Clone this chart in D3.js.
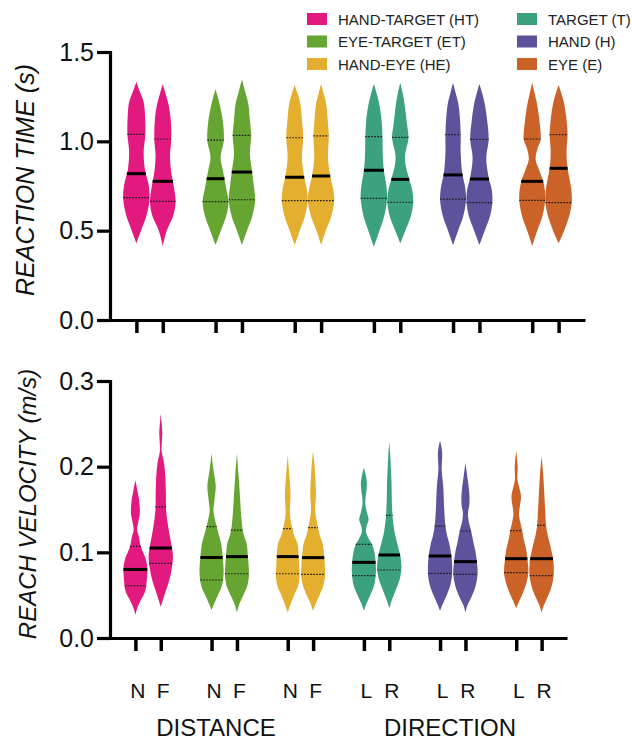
<!DOCTYPE html>
<html>
<head>
<meta charset="utf-8">
<script src="https://cdn.jsdelivr.net/npm/d3@7"></script>
<style>
  html, body { margin: 0; padding: 0; background: #fff; }
  svg { display: block; font-family: "Liberation Sans", Arial, Helvetica, sans-serif; }
</style>
</head>
<body>
<svg id="chart" width="632" height="740"></svg>
<script>
// ---------------- DATA ----------------
const groupNames = ["HAND-TARGET (HT)", "EYE-TARGET (ET)", "HAND-EYE (HE)", "TARGET (T)", "HAND (H)", "EYE (E)"];
const groupColors = ["#E2197F", "#67A532", "#E4AE2F", "#3BA17F", "#5D539C", "#CB6329"];
const conditions = ["N", "F", "N", "F", "N", "F", "L", "R", "L", "R", "L", "R"];
const slots = [1, 2, 4, 5, 7, 8, 10, 11, 13, 14, 16, 17];
const violinGroup = [0, 0, 1, 1, 2, 2, 3, 3, 4, 4, 5, 5];
const factorLabels = ["DISTANCE", "DIRECTION"];

const rtTicks = [0.0, 0.5, 1.0, 1.5];
const velTicks = [0.0, 0.1, 0.2, 0.3];

// Reaction time (s)
const rtQ1     = [0.685, 0.664, 0.662, 0.673, 0.668, 0.668, 0.681, 0.659, 0.676, 0.657, 0.670, 0.657];
const rtMedian = [0.819, 0.776, 0.791, 0.828, 0.799, 0.806, 0.838, 0.787, 0.812, 0.789, 0.776, 0.849];
const rtQ3     = [1.039, 1.013, 1.007, 1.033, 1.020, 1.030, 1.026, 1.022, 1.037, 1.011, 1.013, 1.037];
// density outline: [value, relative half-width]
const rtProfiles = [
  [[0.43,0],[0.50,0.35],[0.58,0.75],[0.68,1.0],[0.76,0.92],[0.84,0.65],[0.94,0.55],[1.04,0.68],[1.15,0.65],[1.22,0.55],[1.28,0.25],[1.334,0]],
  [[0.414,0],[0.50,0.3],[0.58,0.78],[0.66,0.97],[0.74,0.85],[0.84,0.62],[0.92,0.55],[1.01,0.64],[1.12,0.6],[1.2,0.45],[1.27,0.2],[1.321,0]],
  [[0.42,0],[0.5,0.4],[0.58,0.8],[0.66,0.98],[0.74,0.8],[0.84,0.55],[0.91,0.38],[1.0,0.62],[1.08,0.6],[1.16,0.45],[1.24,0.2],[1.291,0]],
  [[0.42,0],[0.5,0.38],[0.58,0.78],[0.67,1.0],[0.74,0.92],[0.83,0.77],[0.93,0.6],[1.03,0.7],[1.12,0.6],[1.21,0.48],[1.29,0.2],[1.347,0]],
  [[0.42,0],[0.5,0.38],[0.58,0.77],[0.67,0.98],[0.73,0.92],[0.8,0.72],[0.91,0.54],[1.02,0.64],[1.12,0.55],[1.21,0.42],[1.27,0.2],[1.315,0]],
  [[0.42,0],[0.5,0.35],[0.58,0.77],[0.67,1.0],[0.73,0.92],[0.81,0.68],[0.91,0.52],[1.03,0.58],[1.12,0.5],[1.21,0.38],[1.27,0.18],[1.321,0]],
  [[0.41,0],[0.5,0.42],[0.58,0.78],[0.68,1.0],[0.75,0.95],[0.84,0.75],[0.93,0.67],[1.03,0.65],[1.12,0.58],[1.21,0.4],[1.27,0.2],[1.321,0]],
  [[0.43,0],[0.5,0.38],[0.58,0.8],[0.66,0.98],[0.72,0.92],[0.79,0.67],[0.86,0.42],[0.92,0.36],[1.02,0.62],[1.1,0.5],[1.18,0.38],[1.27,0.18],[1.328,0]],
  [[0.42,0],[0.5,0.38],[0.58,0.77],[0.67,0.98],[0.74,0.92],[0.82,0.7],[0.93,0.58],[1.04,0.58],[1.13,0.52],[1.21,0.4],[1.27,0.2],[1.328,0]],
  [[0.42,0],[0.5,0.4],[0.58,0.8],[0.66,0.98],[0.73,0.93],[0.79,0.72],[0.91,0.52],[1.01,0.7],[1.12,0.58],[1.21,0.4],[1.27,0.2],[1.321,0]],
  [[0.414,0],[0.5,0.38],[0.58,0.77],[0.67,0.98],[0.73,0.95],[0.78,0.82],[0.84,0.52],[0.9,0.26],[0.96,0.4],[1.01,0.64],[1.12,0.54],[1.21,0.36],[1.27,0.18],[1.328,0]],
  [[0.43,0],[0.5,0.42],[0.58,0.8],[0.66,1.0],[0.74,0.95],[0.85,0.68],[0.94,0.6],[1.04,0.68],[1.12,0.6],[1.21,0.42],[1.27,0.2],[1.315,0]]
];

// Reach velocity (m/s)
const velQ1     = [0.061, 0.087, 0.0677, 0.075, 0.075, 0.0743, 0.0727, 0.0794, 0.0755, 0.0743, 0.0762, 0.0727];
const velMedian = [0.080, 0.105, 0.094, 0.095, 0.095, 0.0938, 0.0883, 0.0969, 0.0957, 0.0891, 0.0926, 0.0926];
const velQ3     = [0.107, 0.153, 0.130, 0.126, 0.1276, 0.1288, 0.1093, 0.1432, 0.1307, 0.1249, 0.1253, 0.1315];
const velProfiles = [
  [[0.027,0],[0.035,0.15],[0.045,0.45],[0.055,0.78],[0.068,0.9],[0.08,0.94],[0.092,0.82],[0.1,0.6],[0.108,0.4],[0.118,0.28],[0.126,0.14],[0.135,0.22],[0.146,0.35],[0.16,0.3],[0.17,0.18],[0.184,0]],
  [[0.0365,0],[0.045,0.18],[0.056,0.42],[0.068,0.68],[0.08,0.85],[0.095,0.96],[0.108,0.85],[0.12,0.7],[0.133,0.55],[0.15,0.42],[0.17,0.4],[0.19,0.35],[0.205,0.25],[0.218,0.07],[0.228,0.08],[0.24,0.12],[0.252,0.06],[0.2615,0]],
  [[0.0327,0],[0.04,0.2],[0.05,0.5],[0.06,0.8],[0.07,0.92],[0.08,0.95],[0.094,0.88],[0.11,0.76],[0.12,0.58],[0.13,0.4],[0.14,0.24],[0.149,0.15],[0.16,0.22],[0.177,0.33],[0.19,0.22],[0.2,0.12],[0.2156,0]],
  [[0.0296,0],[0.04,0.2],[0.05,0.5],[0.06,0.8],[0.072,0.94],[0.085,0.92],[0.095,0.86],[0.11,0.77],[0.12,0.55],[0.13,0.42],[0.146,0.32],[0.17,0.22],[0.19,0.13],[0.2156,0]],
  [[0.0296,0],[0.04,0.24],[0.05,0.5],[0.06,0.8],[0.072,0.93],[0.085,0.9],[0.095,0.86],[0.11,0.77],[0.12,0.5],[0.128,0.36],[0.14,0.2],[0.15,0.17],[0.165,0.22],[0.18,0.18],[0.195,0.1],[0.2136,0]],
  [[0.0319,0],[0.04,0.2],[0.05,0.5],[0.06,0.78],[0.072,0.94],[0.085,0.92],[0.094,0.88],[0.11,0.75],[0.12,0.52],[0.129,0.38],[0.14,0.24],[0.15,0.16],[0.165,0.22],[0.18,0.2],[0.2,0.12],[0.2187,0]],
  [[0.0319,0],[0.04,0.2],[0.05,0.5],[0.06,0.78],[0.072,0.93],[0.085,0.94],[0.098,0.85],[0.108,0.68],[0.116,0.38],[0.124,0.16],[0.131,0.22],[0.138,0.37],[0.146,0.25],[0.155,0.12],[0.162,0.12],[0.172,0.2],[0.181,0.24],[0.19,0.15],[0.1988,0]],
  [[0.0346,0],[0.042,0.15],[0.05,0.35],[0.06,0.62],[0.07,0.85],[0.082,0.96],[0.095,0.88],[0.105,0.72],[0.115,0.55],[0.125,0.4],[0.14,0.27],[0.16,0.2],[0.18,0.18],[0.2,0.12],[0.215,0.07],[0.2292,0]],
  [[0.0319,0],[0.04,0.22],[0.05,0.52],[0.06,0.78],[0.07,0.92],[0.08,0.96],[0.095,0.9],[0.11,0.73],[0.12,0.55],[0.131,0.42],[0.153,0.32],[0.177,0.25],[0.196,0.13],[0.206,0.15],[0.216,0.17],[0.224,0.1],[0.2303,0]],
  [[0.0296,0],[0.038,0.15],[0.046,0.42],[0.056,0.7],[0.066,0.88],[0.076,0.96],[0.089,0.9],[0.1,0.8],[0.11,0.65],[0.125,0.45],[0.137,0.25],[0.146,0.2],[0.155,0.3],[0.165,0.32],[0.177,0.25],[0.19,0.13],[0.2046,0]],
  [[0.0346,0],[0.042,0.2],[0.05,0.45],[0.06,0.72],[0.07,0.9],[0.078,0.96],[0.09,0.9],[0.105,0.76],[0.116,0.58],[0.125,0.48],[0.135,0.32],[0.145,0.22],[0.155,0.3],[0.165,0.38],[0.175,0.25],[0.185,0.1],[0.2,0.12],[0.2187,0]],
  [[0.0296,0],[0.038,0.17],[0.046,0.42],[0.056,0.7],[0.066,0.88],[0.076,0.96],[0.09,0.93],[0.1,0.8],[0.11,0.65],[0.12,0.48],[0.132,0.35],[0.15,0.28],[0.172,0.2],[0.19,0.13],[0.2124,0]]
];

// ---------------- DRAW ----------------
const svg = d3.select("#chart");
const FONT = '"Liberation Sans", Arial, Helvetica, sans-serif';

const panels = [
  { x: d3.scaleLinear().domain([0, 18]).range([110, 585]),
    y: d3.scaleLinear().domain([0, 1.5]).range([320, 52]),
    ticks: rtTicks, fmt: d3.format(".1f"),
    q1: rtQ1, med: rtMedian, q3: rtQ3, prof: rtProfiles,
    title: "REACTION TIME (s)", titleX: 34, titleY: 180, titleSize: 25, labels: false },
  { x: d3.scaleLinear().domain([0, 18]).range([110, 567]),
    y: d3.scaleLinear().domain([0, 0.3]).range([638, 381]),
    ticks: velTicks, fmt: d3.format(".1f"),
    q1: velQ1, med: velMedian, q3: velQ3, prof: velProfiles,
    title: "REACH VELOCITY (m/s)", titleX: 36, titleY: 504, titleSize: 24, labels: true }
];

function widthAt(profile, v) {
  for (let i = 0; i < profile.length - 1; i++) {
    const a = profile[i], b = profile[i + 1];
    if (v >= a[0] && v <= b[0]) {
      const t = (v - a[0]) / (b[0] - a[0]);
      return a[1] + t * (b[1] - a[1]);
    }
  }
  return 0;
}

panels.forEach(p => {
  const g = svg.append("g");
  const step = p.x(1) - p.x(0);
  const hwMax = step * 0.5;

  // violins
  p.prof.forEach((prof, i) => {
    const cx = p.x(slots[i]);
    const area = d3.area()
      .y(d => p.y(d[0]))
      .x0(d => cx - d[1] * hwMax)
      .x1(d => cx + d[1] * hwMax)
      .curve(d3.curveCatmullRom.alpha(0.5));
    g.append("path")
      .attr("d", area(prof))
      .attr("fill", groupColors[violinGroup[i]]);

    // quartile lines (dotted) and median (thick)
    [[p.q1[i], "q"], [p.q3[i], "q"], [p.med[i], "m"]].forEach(([v, kind]) => {
      const w = widthAt(prof, v) * hwMax;
      g.append("line")
        .attr("x1", cx - w).attr("x2", cx + w)
        .attr("y1", p.y(v)).attr("y2", p.y(v))
        .attr("stroke", kind === "m" ? "#000" : "#1a1a1a")
        .attr("stroke-width", kind === "m" ? 3 : 1.2)
        .attr("stroke-dasharray", kind === "m" ? null : "1.6,1.4");
    });
  });

  // y axis
  const yAxis = d3.axisLeft(p.y).tickValues(p.ticks).tickFormat(p.fmt)
    .tickSize(13).tickSizeOuter(0).tickPadding(3);
  const ya = g.append("g").attr("transform", `translate(${p.x(0)},0)`).call(yAxis);
  ya.select(".domain").attr("stroke", "#000").attr("stroke-width", 3.2).attr("stroke-linecap", "square");
  ya.selectAll(".tick line").attr("stroke", "#000").attr("stroke-width", 3.2);
  ya.selectAll(".tick text").attr("font-size", 25).attr("font-family", FONT).attr("fill", "#111");

  // x axis
  const xAxis = d3.axisBottom(p.x).tickValues(slots)
    .tickFormat((d, i) => p.labels ? conditions[i] : "")
    .tickSize(13).tickSizeOuter(0).tickPadding(32);
  const xa = g.append("g").attr("transform", `translate(0,${p.y(0)})`).call(xAxis);
  xa.select(".domain").attr("stroke", "#000").attr("stroke-width", 3.2);
  xa.selectAll(".tick line").attr("stroke", "#000").attr("stroke-width", 3.5);
  xa.selectAll(".tick text").attr("font-size", 21).attr("font-family", FONT).attr("fill", "#111").attr("dx", 2);

  // y title
  svg.append("text")
    .attr("transform", `translate(${p.titleX},${p.titleY}) rotate(-90)`)
    .attr("text-anchor", "middle")
    .attr("font-size", p.titleSize).attr("font-style", "italic")
    .attr("font-family", FONT).attr("fill", "#111")
    .text(p.title);
});

// factor labels
const factorX = [216, 450];
factorLabels.forEach((t, i) => {
  svg.append("text")
    .attr("x", factorX[i]).attr("y", 736)
    .attr("text-anchor", "middle")
    .attr("font-size", 24).attr("font-family", FONT).attr("fill", "#111")
    .text(t);
});

// legend
const legend = svg.append("g");
const colX = [307, 517];
const rowY = [19, 41.5, 64];
groupNames.forEach((name, i) => {
  const col = Math.floor(i / 3), row = i % 3;
  legend.append("rect")
    .attr("x", colX[col]).attr("y", rowY[row] - 6)
    .attr("width", 20).attr("height", 12)
    .attr("fill", groupColors[i]);
  legend.append("text")
    .attr("x", colX[col] + 31).attr("y", rowY[row] + 5.5)
    .attr("font-size", 15).attr("font-family", FONT).attr("fill", "#222")
    .text(name);
});
</script>
</body>
</html>
